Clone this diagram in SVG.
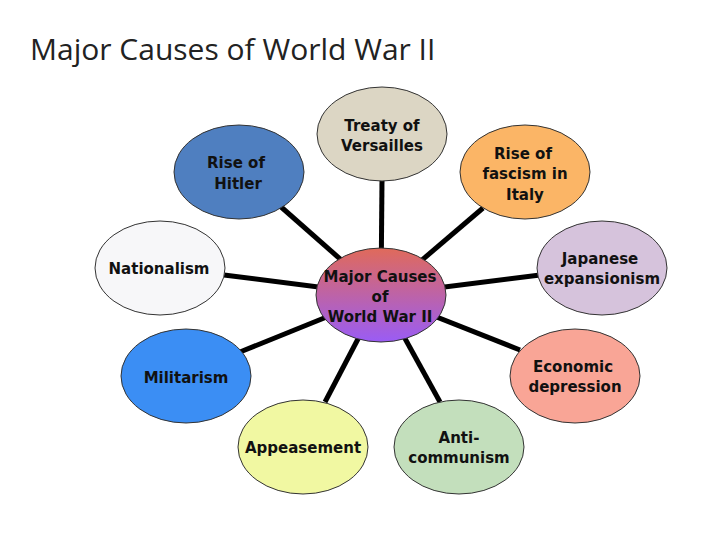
<svg xmlns="http://www.w3.org/2000/svg" width="720" height="540" viewBox="0 0 720 540">
<style>
.n{stroke:#333;stroke-width:1}
.t{font-family:"DejaVu Sans",Verdana,sans-serif;font-weight:bold;font-size:15px;fill:#111;text-anchor:middle}
.c line{stroke:#000;stroke-width:5}
</style>
<defs><linearGradient id="g" x1="0" y1="0" x2="0" y2="1"><stop offset="0" stop-color="#e06a5a"/><stop offset="1" stop-color="#9a5cf5"/></linearGradient></defs>
<rect width="720" height="540" fill="#fff"/>
<text x="30" y="60" font-family="'Open Sans','Liberation Sans',sans-serif" font-size="30" fill="#222">Major Causes of World War II</text>
<g class="c">
<line x1="381" y1="295" x2="382" y2="180"/>
<line x1="381" y1="295" x2="483" y2="208"/>
<line x1="381" y1="295" x2="540" y2="275"/>
<line x1="381" y1="295" x2="520" y2="350"/>
<line x1="381" y1="295" x2="440" y2="402"/>
<line x1="381" y1="295" x2="325" y2="402"/>
<line x1="381" y1="295" x2="240" y2="352"/>
<line x1="381" y1="295" x2="224" y2="275"/>
<line x1="381" y1="295" x2="280" y2="206"/>
</g>
<g id="hitler"><ellipse class="n" cx="239" cy="172" rx="65" ry="47" fill="#4f7fc0"/><text class="t" x="236" y="168">Rise of</text><text class="t" x="238" y="189">Hitler</text></g>
<g id="treaty"><ellipse class="n" cx="382" cy="134" rx="65" ry="47" fill="#dcd6c4"/><text class="t" x="382" y="131">Treaty of</text><text class="t" x="382" y="151">Versailles</text></g>
<g id="fascism"><ellipse class="n" cx="525" cy="172" rx="65" ry="47" fill="#fbb566"/><text class="t" x="523" y="159">Rise of</text><text class="t" x="525" y="179">fascism in</text><text class="t" x="525" y="200">Italy</text></g>
<g id="japan"><ellipse class="n" cx="602" cy="268" rx="65" ry="47" fill="#d6c3dc"/><text class="t" x="600" y="264">Japanese</text><text class="t" x="602" y="284">expansionism</text></g>
<g id="econ"><ellipse class="n" cx="575" cy="376" rx="65" ry="47" fill="#f9a596"/><text class="t" x="573" y="372">Economic</text><text class="t" x="575" y="392">depression</text></g>
<g id="anti"><ellipse class="n" cx="459" cy="447" rx="65" ry="47" fill="#c3dfbc"/><text class="t" x="459" y="443">Anti-</text><text class="t" x="459" y="463">communism</text></g>
<g id="appease"><ellipse class="n" cx="303" cy="447" rx="65" ry="47" fill="#f1f8a2"/><text class="t" x="303" y="453">Appeasement</text></g>
<g id="milit"><ellipse class="n" cx="186" cy="376" rx="65" ry="47" fill="#3b8ef4"/><text class="t" x="186" y="383">Militarism</text></g>
<g id="nation"><ellipse class="n" cx="160" cy="268" rx="65" ry="47" fill="#f7f7f9"/><text class="t" x="159" y="274">Nationalism</text></g>
<g id="center"><ellipse class="n" cx="381" cy="295" rx="65" ry="47" fill="url(#g)"/><text class="t" x="380" y="282">Major Causes</text><text class="t" x="380" y="302">of</text><text class="t" x="380" y="322">World War II</text></g>
</svg>
